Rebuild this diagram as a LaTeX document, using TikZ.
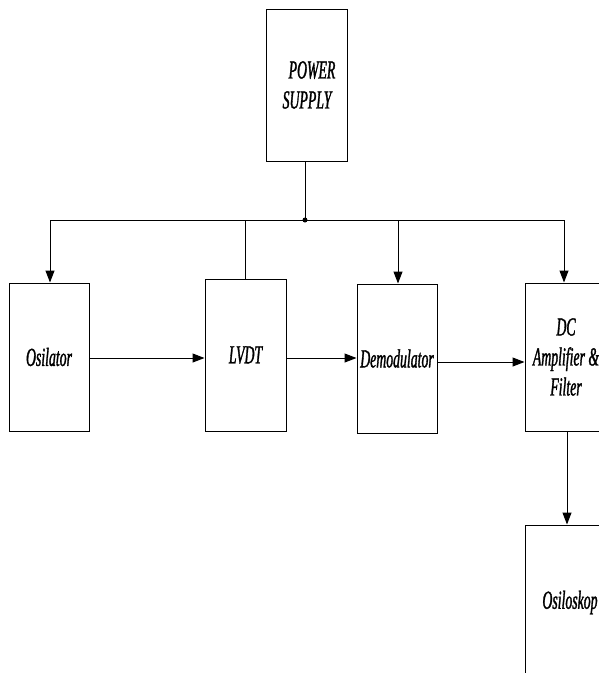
\documentclass[tikz,border=0pt]{standalone}
\usepackage{fontspec}
\newfontfamily\cond[FakeStretch=0.53,FakeBold=1.2]{Liberation Serif}
\usetikzlibrary{arrows.meta}
\begin{document}
\begin{tikzpicture}[x=1pt,y=-1pt,
  blk/.style={draw,line width=1pt,inner sep=0pt,align=center,
    font=\cond\itshape\fontsize{26}{30}\selectfont},
  wire/.style={line width=1pt},
  arr/.style={wire,-{Triangle[length=12pt,width=9pt]}}]
\useasboundingbox (0,0) rectangle (599,673);
\node[blk,minimum width=81pt,minimum height=152pt] (ps) at (307,85) {\hspace*{10pt}POWER\\SUPPLY};
\node[blk,minimum width=80pt,minimum height=148pt] (osc) at (49,357) {Osilator};
\node[blk,minimum width=81pt,minimum height=152pt] (lvdt) at (245.5,355) {LVDT};
\node[blk,minimum width=80pt,minimum height=149pt] (dem) at (397,358.5) {Demodulator};
\node[blk,minimum width=82pt,minimum height=148pt] (amp) at (566,357) {DC\\Amplifier \&\\Filter};
\node[blk,minimum width=90pt,minimum height=155pt] (osk) at (570,602.5) {Osiloskop};
\coordinate (j) at (305,220);
\coordinate (bl) at (50,220);
\coordinate (br) at (564,220);
\coordinate (bd) at (398,220);
\coordinate (bv) at (245,220);
\draw[wire] (ps.south -| j) -- (j);
\fill (j) circle (2.5pt);
\draw[wire] (bl) -- (br);
\draw[arr] (bl) -- (bl |- osc.north);
\draw[arr] (bd) -- (bd |- dem.north);
\draw[arr] (br) -- (br |- amp.north);
\draw[wire] (bv) -- (bv |- lvdt.north);
\draw[arr] (osc.east |- 0,358) -- (lvdt.west |- 0,358);
\draw[arr] (lvdt.east |- 0,358) -- (dem.west |- 0,358);
\draw[arr] (dem.east |- 0,362) -- (amp.west |- 0,362);
\draw[arr] (amp.south -| 567,0) -- (osk.north -| 567,0);
\end{tikzpicture}
\end{document}
